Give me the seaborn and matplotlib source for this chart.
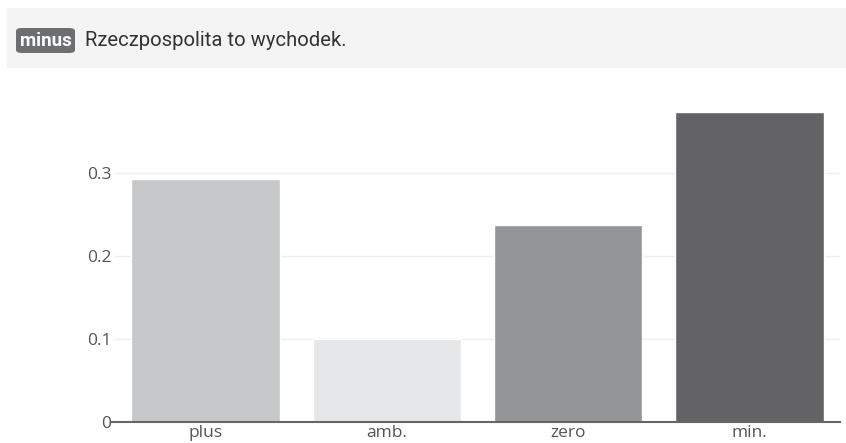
import matplotlib
matplotlib.use("Agg")
import matplotlib.pyplot as plt
from matplotlib.patches import FancyBboxPatch, Rectangle
import seaborn as sns
import pandas as pd

# values
categories = ["plus", "amb.", "zero", "min."]
shares = [0.293, 0.100, 0.237, 0.374]
bar_colors = ["#c7c8ca", "#e6e7e8", "#939598", "#636365"]
y_ticks = [0, 0.1, 0.2, 0.3]
y_tick_labels = ["0", "0.1", "0.2", "0.3"]
badge_text = "minus"
title_text = "Rzeczpospolita to wychodek."

df = pd.DataFrame({"category": categories, "share": shares})

sns.set_theme(style="white")
plt.rcParams["font.family"] = ["Open Sans", "DejaVu Sans"]

fig = plt.figure(figsize=(8.46, 4.43), dpi=100)
W, H = 846, 443

# header strip
fig.patches.append(Rectangle((7 / W, 1 - 68 / H), (W - 7) / W, 60 / H,
                             transform=fig.transFigure, facecolor="#f4f4f4",
                             edgecolor="none", zorder=0))
fig.patches.append(FancyBboxPatch((16 / W, 1 - 53 / H), 59 / W, 25 / H,
                                  boxstyle="round,pad=0,rounding_size=0.007",
                                  transform=fig.transFigure, facecolor="#6d6e70",
                                  edgecolor="none", zorder=1))
fig.text(45.5 / W, 1 - 41 / H, badge_text, color="white", fontsize=13.5,
         fontweight="bold", ha="center", va="center", family="Roboto")
fig.text(85 / W, 1 - 40 / H, title_text, color="#333333", fontsize=14.6,
         ha="left", va="center", family="Roboto")

ax = fig.add_axes([115 / W, 21 / H, 725 / W, 326 / H])
sns.barplot(data=df, x="category", y="share", hue="category",
            palette=bar_colors, width=0.82, legend=False, ax=ax, saturation=1)

ax.set_ylim(0, 0.393)
ax.set_xlim(-0.5, 3.5)
ax.set_yticks(y_ticks)
ax.set_yticklabels(y_tick_labels)
ax.set_xlabel("")
ax.set_ylabel("")
ax.grid(axis="y", color="#eeeeee", linewidth=1)
ax.set_axisbelow(True)
for s in ["top", "right", "left"]:
    ax.spines[s].set_visible(False)
ax.spines["bottom"].set_color("#666666")
ax.spines["bottom"].set_linewidth(1.5)
ax.spines["bottom"].set_zorder(5)
ax.tick_params(axis="x", length=0, pad=2.5, labelsize=12.5, labelcolor="#555555")
ax.tick_params(axis="y", length=0, pad=2.5, labelsize=12.5, labelcolor="#555555")
# small tick on the zero line only
ax.plot([-0.52, -0.5], [0, 0], color="#666666", linewidth=1.5,
        clip_on=False, solid_capstyle="butt")

fig.savefig("out.png", dpi=100)
